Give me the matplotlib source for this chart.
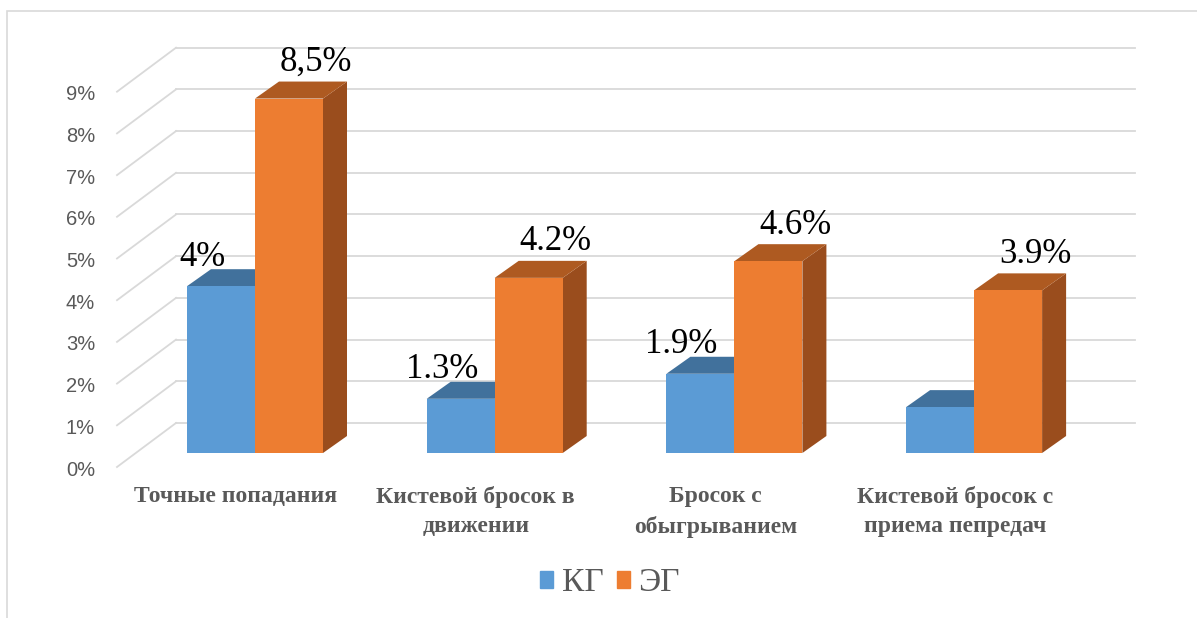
import matplotlib.pyplot as plt
from matplotlib.patches import Polygon, Patch, Rectangle
import numpy as np

categories = ['Точные попадания', 'Кистевой бросок в\nдвижении',
              'Бросок с\nобыгрыванием', 'Кистевой бросок с\nприема пепредач']
kg = [4.0, 1.3, 1.9, 1.1]
eg = [8.5, 4.2, 4.6, 3.9]
kg_labels = ['4%', '1.3%', '1.9%', None]
eg_labels = ['8,5%', '4.2%', '4.6%', '3.9%']
ticks = list(range(0, 10))

W, H = 1197, 618
GROUP = 239.7   # pixels between category centres
UNIT = 41.7     # pixels per 1 %
X0, Y0 = 255, 453  # pixel position of first category centre / zero level


def px(d):
    return d / GROUP


def py(d):
    return d / UNIT


BLUE, BLUE_TOP = '#5b9bd5', '#41719c'
ORANGE, ORANGE_TOP, ORANGE_SIDE = '#ed7d31', '#ae5a21', '#9a4d1d'
GRID = '#d9d9d9'
GRAY = '#595959'


def main():
    fig = plt.figure(figsize=(W / 100, H / 100), dpi=100)
    ax = fig.add_axes([0, 0, 1, 1])
    ax.set_xlim(-X0 / GROUP, (W - X0) / GROUP)
    ax.set_ylim(-(H - Y0) / UNIT, Y0 / UNIT)
    ax.axis('off')

    # outer frame
    fig.add_artist(Rectangle((7 / W, -0.1), 2.0, 1 - 11 / H + 0.1,
                             transform=fig.transFigure, fill=False,
                             edgecolor=GRID, lw=1.2))

    # back wall and side wall gridlines
    wall_l, wall_r = px(176 - X0), px(1135 - X0)
    wall_dy = py(30)
    front_l, front_dy = px(117 - X0), -py(14)
    for t in ticks:
        ax.plot([wall_l, wall_r], [t + wall_dy, t + wall_dy], color=GRID, lw=1.3, zorder=1)
        ax.plot([front_l, wall_l], [t + front_dy, t + wall_dy], color=GRID, lw=1.3, zorder=1)
        ax.text(px(95 - X0), t + front_dy - py(3), f'{t}%', ha='right', va='center',
                fontsize=14.5, color=GRAY, family='Liberation Sans')

    idx = np.arange(len(categories))
    w = px(68)
    ddx, ddy = px(24), py(17)

    # blue bars: top face then front
    for i, v in enumerate(kg):
        x0, x1 = idx[i] - w, idx[i]
        ax.add_patch(Polygon([(x0, v), (x1, v), (x1 + ddx, v + ddy), (x0 + ddx, v + ddy)],
                             closed=True, facecolor=BLUE_TOP, edgecolor='none', zorder=2))
    ax.bar(idx - w, kg, width=w, align='edge', color=BLUE, zorder=3)

    # orange bars: side, top, front
    for i, v in enumerate(eg):
        x0, x1 = idx[i], idx[i] + w
        ax.add_patch(Polygon([(x1, 0), (x1, v), (x1 + ddx, v + ddy), (x1 + ddx, ddy)],
                             closed=True, facecolor=ORANGE_SIDE, edgecolor='none', zorder=4))
        ax.add_patch(Polygon([(x0, v), (x1, v), (x1 + ddx, v + ddy), (x0 + ddx, v + ddy)],
                             closed=True, facecolor=ORANGE_TOP, edgecolor='none', zorder=4))
    ax.bar(idx, eg, width=w, align='edge', color=ORANGE, zorder=5)

    # value labels
    for i, (v, lab) in enumerate(zip(kg, kg_labels)):
        if lab:
            ax.text(idx[i] - w / 2 - px(19), v + py(29), lab, ha='center', va='center',
                    fontsize=25, family='Liberation Serif', zorder=6)
    for i, (v, lab) in enumerate(zip(eg, eg_labels)):
        ax.text(idx[i] + w / 2 + px(27), v + py(36), lab, ha='center', va='center',
                fontsize=25, family='Liberation Serif', zorder=6)

    # category labels along the floor front
    for i, name in enumerate(categories):
        ax.text(idx[i] - px(19), py(-486 + Y0), name, ha='center', va='top',
                fontsize=17, fontweight='bold', color=GRAY,
                family='Liberation Serif', linespacing=1.5)

    handles = [Patch(color=BLUE, label='КГ'), Patch(color=ORANGE, label='ЭГ')]
    fig.legend(handles=handles, loc='center', bbox_to_anchor=(610 / W, 1 - 583 / H),
               ncol=2, frameon=False, handlelength=0.4, handleheight=0.4,
               handletextpad=0.25, columnspacing=0.4,
               prop={'family': 'Liberation Serif', 'size': 24}, labelcolor=GRAY)

    fig.savefig('out.png', dpi=100)


if __name__ == '__main__':
    main()
